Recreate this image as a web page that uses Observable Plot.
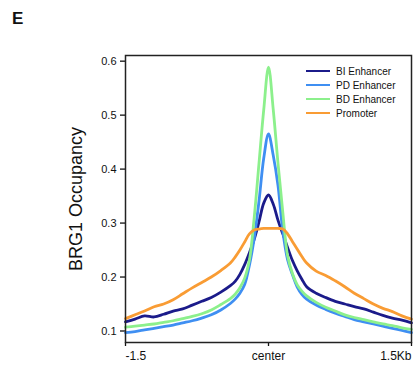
<!DOCTYPE html>
<html>
<head>
<meta charset="utf-8">
<script src="https://cdn.jsdelivr.net/npm/d3@7"></script>
<script src="https://cdn.jsdelivr.net/npm/@observablehq/plot@0.6"></script>
<style>
  html, body { margin: 0; padding: 0; background: #fff; }
  body { width: 414px; height: 366px; position: relative; overflow: hidden; font-family: "Liberation Sans", Arial, sans-serif; }
  #panel { position: absolute; left: 12px; top: 10px; font-size: 17px; font-weight: bold; line-height: 1; color: #111; }
  #legend { position: absolute; left: 306px; top: 64px; font-size: 10px; color: #111; }
  #legend .row { display: flex; align-items: center; height: 14px; }
  #legend .sw { width: 24px; height: 2.6px; margin-right: 6px; }
  #chart { position: absolute; left: 0; top: 0; }
</style>
</head>
<body>
<div id="chart"></div>
<div id="panel">E</div>
<div id="legend"></div>
<script>
// Distance from peak center (kb)
const positions = [-1.5,-1.4,-1.3,-1.2,-1.1,-1.0,-0.9,-0.8,-0.7,-0.6,-0.5,-0.4,-0.35,-0.3,-0.25,-0.2,-0.15,-0.1,-0.05,0,
                   0.05,0.1,0.15,0.2,0.25,0.3,0.35,0.4,0.5,0.6,0.7,0.8,0.9,1.0,1.1,1.2,1.3,1.4,1.5];

const seriesNames = ["BI Enhancer", "PD Enhancer", "BD Enhancer", "Promoter"];
const seriesColors = ["#1b1b8a", "#3f8ff2", "#8cf08c", "#f99c34"];

const biEnhancer = [0.117,0.122,0.128,0.126,0.131,0.137,0.141,0.148,0.155,0.162,0.172,0.184,0.192,0.205,0.223,0.245,0.270,0.302,0.337,0.352,
                    0.335,0.305,0.280,0.255,0.231,0.212,0.196,0.182,0.170,0.162,0.155,0.150,0.145,0.141,0.135,0.129,0.124,0.120,0.115];
const pdEnhancer = [0.097,0.099,0.102,0.105,0.108,0.111,0.115,0.119,0.124,0.130,0.139,0.151,0.159,0.170,0.186,0.222,0.272,0.340,0.420,0.465,
                    0.425,0.369,0.285,0.232,0.205,0.182,0.168,0.159,0.148,0.140,0.133,0.127,0.121,0.117,0.113,0.109,0.105,0.101,0.097];
const bdEnhancer = [0.107,0.109,0.111,0.113,0.116,0.119,0.123,0.127,0.132,0.139,0.149,0.160,0.168,0.180,0.198,0.232,0.310,0.410,0.510,0.589,
                    0.510,0.410,0.320,0.240,0.207,0.186,0.174,0.165,0.153,0.144,0.137,0.130,0.125,0.121,0.117,0.113,0.110,0.106,0.103];
const promoter   = [0.123,0.130,0.137,0.145,0.150,0.158,0.169,0.180,0.190,0.200,0.212,0.226,0.237,0.250,0.265,0.280,0.287,0.289,0.290,0.290,
                    0.290,0.290,0.289,0.280,0.266,0.252,0.238,0.226,0.211,0.203,0.193,0.182,0.170,0.160,0.150,0.142,0.136,0.128,0.122];

const yTicks = [0.1, 0.2, 0.3, 0.4, 0.5, 0.6];
const xTicks = [-1.5, 0, 1.5];
const xTickLabels = ["-1.5", "center", "1.5Kb"];
const yLabel = "BRG1 Occupancy";

const allValues = [biEnhancer, pdEnhancer, bdEnhancer, promoter];
const rows = [];
seriesNames.forEach((name, s) => {
  positions.forEach((p, i) => rows.push({series: name, pos: p, value: allValues[s][i]}));
});

const font = '"Liberation Sans", Arial, sans-serif';

const chart = Plot.plot({
  width: 414,
  height: 366,
  marginLeft: 125,
  marginRight: 3,
  marginTop: 55,
  marginBottom: 24,
  style: {fontFamily: font, color: "#111", background: "white"},
  x: {domain: [-1.5, 1.5]},
  y: {domain: [0.0787, 0.6105]},
  color: {domain: seriesNames, range: seriesColors},
  marks: [
    Plot.axisY({ticks: yTicks, tickSize: 5, tickPadding: 4, fontSize: 11, label: null, tickFormat: d => String(d), strokeWidth: 1.3}),
    Plot.axisX({ticks: xTicks, tickSize: 4, tickFormat: () => "", label: null, strokeWidth: 1.3}),
    Plot.text([0], {x: d => xTicks[d], text: d => xTickLabels[d], frameAnchor: "bottom", dy: 9, lineAnchor: "top", textAnchor: "start", fontSize: 12}),
    Plot.text([1], {x: d => xTicks[d], text: d => xTickLabels[d], frameAnchor: "bottom", dy: 9, lineAnchor: "top", textAnchor: "middle", fontSize: 12}),
    Plot.text([2], {x: d => xTicks[d], text: d => xTickLabels[d], frameAnchor: "bottom", dy: 9, lineAnchor: "top", textAnchor: "end", fontSize: 12}),
    Plot.text([yLabel], {text: d => d, frameAnchor: "left", dx: -49, rotate: -90, textAnchor: "middle", lineAnchor: "middle", fontSize: 18}),
    Plot.line(rows, {x: "pos", y: "value", stroke: "series", z: "series", strokeWidth: 2.8, curve: "catmull-rom"}),
    Plot.frame({stroke: "#222", strokeWidth: 1.5})
  ]
});
document.getElementById("chart").appendChild(chart);

const legend = document.getElementById("legend");
seriesNames.forEach((name, i) => {
  const row = document.createElement("div");
  row.className = "row";
  const sw = document.createElement("div");
  sw.className = "sw";
  sw.style.background = seriesColors[i];
  const t = document.createElement("span");
  t.textContent = name;
  row.appendChild(sw);
  row.appendChild(t);
  legend.appendChild(row);
});
</script>
</body>
</html>
